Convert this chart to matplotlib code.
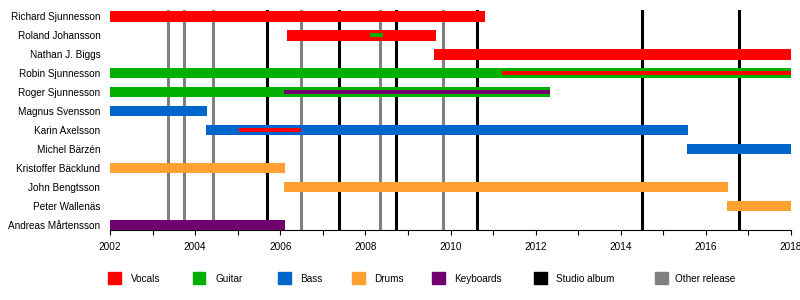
import matplotlib
matplotlib.use("Agg")
import matplotlib.pyplot as plt
from matplotlib.patches import Rectangle

plt.rcParams['font.family'] = ['Liberation Sans', 'DejaVu Sans']

members = ["Richard Sjunnesson", "Roland Johansson", "Nathan J. Biggs", "Robin Sjunnesson",
           "Roger Sjunnesson", "Magnus Svensson", "Karin Axelsson", "Michel Bärzén",
           "Kristoffer Bäcklund", "John Bengtsson", "Peter Wallenäs", "Andreas Mårtensson"]

# main bars (one per member)
main_role = ["Vocals", "Vocals", "Vocals", "Guitar", "Guitar", "Bass", "Bass", "Bass",
             "Drums", "Drums", "Drums", "Keyboards"]
main_start = [2002.0, 2006.16, 2009.62, 2002.0, 2002.0, 2002.0, 2004.26, 2015.56,
              2002.0, 2006.09, 2016.5, 2002.0]
main_end = [2010.81, 2009.66, 2018.0, 2018.0, 2012.34, 2004.27, 2015.57, 2018.0,
            2006.1, 2016.51, 2018.0, 2006.1]

# secondary (thin) bars
thin_member = ["Roland Johansson", "Robin Sjunnesson", "Roger Sjunnesson", "Karin Axelsson"]
thin_role = ["Guitar", "Vocals", "Keyboards", "Vocals"]
thin_start = [2008.12, 2011.22, 2006.09, 2005.02]
thin_end = [2008.42, 2018.0, 2012.34, 2006.49]

studio_albums = [2005.69, 2007.38, 2008.72, 2010.62, 2014.50, 2016.78]
other_releases = [2003.36, 2003.74, 2004.42, 2006.49, 2008.34, 2009.82]

roles = ["Vocals", "Guitar", "Bass", "Drums", "Keyboards"]
role_colors = {"Vocals": "#FF0000", "Guitar": "#00B000", "Bass": "#0066CC",
               "Drums": "#FFA030", "Keyboards": "#700070"}
legend_labels = roles + ["Studio album", "Other release"]
legend_colors = [role_colors[r] for r in roles] + ["#000000", "#808080"]

fig = plt.figure(figsize=(8, 3), dpi=100)
ax = fig.add_axes([110 / 800, 1 - 230 / 300, 681 / 800, 220 / 300])

ypos = {m: i for i, m in enumerate(members)}

for x in other_releases:
    ax.axvline(x, color="#808080", lw=2.2, zorder=1)
for x in studio_albums:
    ax.axvline(x, color="#000000", lw=2.2, zorder=1)

for m, r, s, e in zip(members, main_role, main_start, main_end):
    ax.barh(ypos[m], e - s, left=s, height=0.56, color=role_colors[r], zorder=2)
for m, r, s, e in zip(thin_member, thin_role, thin_start, thin_end):
    ax.barh(ypos[m], e - s, left=s, height=0.21, color=role_colors[r], zorder=3)

ax.set_xlim(2002, 2018)
ax.set_ylim(11.27, -0.33)
ax.set_yticks(range(len(members)))
ax.set_yticklabels(members, fontsize=7.2)
ax.set_xticks(range(2002, 2019, 2))
ax.set_xticks(range(2003, 2018, 2), minor=True)
ax.tick_params(axis="x", which="both", length=3.5, width=0.8, labelsize=7.2, pad=5, color="black")
ax.tick_params(axis="y", length=0, pad=7)
for s in ["top", "right", "left"]:
    ax.spines[s].set_visible(False)
ax.spines["bottom"].set_linewidth(0.8)

sq_x = [108, 193, 278, 352, 432, 534, 655]
tx_x = [131, 215, 300, 374, 454, 556, 675]
for lab, col, sx, tx in zip(legend_labels, legend_colors, sq_x, tx_x):
    fig.add_artist(Rectangle((sx / 800, 1 - 284 / 300), 12.5 / 800, 12 / 300,
                             transform=fig.transFigure, color=col))
    fig.text(tx / 800, 1 - 278.5 / 300, lab, fontsize=7.2, va="center", ha="left")

fig.savefig("out.png", dpi=100)
